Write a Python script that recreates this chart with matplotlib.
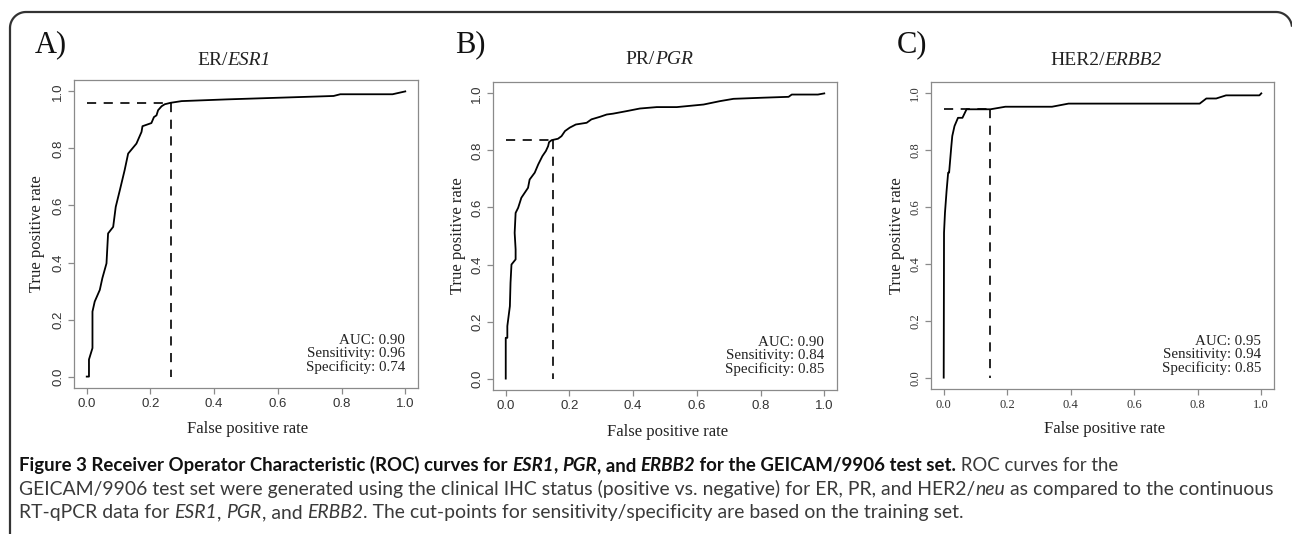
import matplotlib
matplotlib.use("Agg")
import numpy as np
import matplotlib.pyplot as plt
from matplotlib.lines import Line2D

W, H = 1292, 534
fig = plt.figure(figsize=(W / 100, H / 100), dpi=100)
fig.patch.set_facecolor("white")

# ---------------- data ----------------
er_fpr = [0.0, 0.007, 0.007, 0.018, 0.018, 0.025, 0.041, 0.049, 0.062, 0.067, 0.083, 0.091,
          0.104, 0.119, 0.130, 0.156, 0.172, 0.175, 0.203, 0.211, 0.219, 0.224, 0.235, 0.245,
          0.263, 0.298, 0.439, 0.775, 0.796, 0.96, 1.0]
er_tpr = [0.0, 0.0, 0.06, 0.10, 0.228, 0.263, 0.304, 0.345, 0.397, 0.502, 0.525, 0.595,
          0.654, 0.724, 0.782, 0.817, 0.858, 0.878, 0.889, 0.910, 0.916, 0.934, 0.948, 0.955,
          0.960, 0.966, 0.972, 0.984, 0.990, 0.990, 1.0]

pr_fpr = [0.0, 0.0, 0.005, 0.005, 0.013, 0.015, 0.018, 0.031, 0.031, 0.028, 0.031, 0.039,
          0.049, 0.070, 0.075, 0.091, 0.102, 0.115, 0.126, 0.133, 0.136, 0.144, 0.164, 0.175,
          0.186, 0.201, 0.220, 0.254, 0.269, 0.296, 0.317, 0.337, 0.380, 0.421, 0.474, 0.537,
          0.621, 0.673, 0.715, 0.809, 0.888, 0.898, 0.98, 1.0]
pr_tpr = [0.0, 0.143, 0.143, 0.184, 0.254, 0.336, 0.400, 0.418, 0.453, 0.511, 0.581, 0.599,
          0.634, 0.669, 0.698, 0.722, 0.751, 0.780, 0.798, 0.815, 0.829, 0.836, 0.841, 0.850,
          0.868, 0.880, 0.891, 0.897, 0.909, 0.918, 0.926, 0.929, 0.938, 0.947, 0.952, 0.952,
          0.961, 0.973, 0.981, 0.985, 0.988, 0.996, 0.996, 1.0]

her_fpr = [0.0, 0.001, 0.004, 0.009, 0.014, 0.017, 0.024, 0.027, 0.034, 0.045, 0.059, 0.072,
           0.147, 0.194, 0.341, 0.393, 0.806, 0.827, 0.858, 0.889, 0.994, 1.0]
her_tpr = [0.0, 0.51, 0.58, 0.656, 0.721, 0.721, 0.814, 0.850, 0.885, 0.914, 0.914, 0.944,
           0.944, 0.953, 0.953, 0.964, 0.964, 0.982, 0.982, 0.993, 0.993, 1.0]

cut_fpr = [0.263, 0.147, 0.147]
cut_tpr = [0.960, 0.838, 0.944]

letters = ["A)", "B)", "C)"]
titles = [("ER/", "ESR1"), ("PR/", "PGR"), ("HER2/", "ERBB2")]
auc = ["0.90", "0.90", "0.95"]
sens = ["0.96", "0.84", "0.94"]
spec = ["0.74", "0.85", "0.85"]
tick_vals = [0.0, 0.2, 0.4, 0.6, 0.8, 1.0]
tick_labels = ["0.0", "0.2", "0.4", "0.6", "0.8", "1.0"]
xlabel = "False positive rate"
ylabel = "True positive rate"

curves = [(er_fpr, er_tpr), (pr_fpr, pr_tpr), (her_fpr, her_tpr)]

# ---------------- layout (pixels) ----------------
boxes = [(74, 418, 80, 388), (493, 837, 82, 390), (931, 1274, 82, 389)]
letter_pos = [(35, 45), (455, 45), (897, 45)]
title_pos = [(234, 61), (659, 59), (1106, 61)]
xlab_pos = [(248, 429), (668, 432), (1105, 429)]
ylab_pos = [(37, 234), (458, 236), (897, 236)]
tick_fam = ["Liberation Sans", "Liberation Sans", "Liberation Serif"]
tick_size = [9.5, 9.5, 9]

SERIF = "Liberation Serif"
renderer = fig.canvas.get_renderer()


def fx(x):
    return x / W


def fy(y):
    return 1 - y / H


def text_width(s, **kw):
    t = fig.text(0, 0, "|" + s + "|", **kw)
    t2 = fig.text(0, 0, "||", **kw)
    w = t.get_window_extent(renderer).width - t2.get_window_extent(renderer).width
    t.remove()
    t2.remove()
    return w


def runs_width(runs, **common):
    return sum(text_width(s, **common, **kw) for s, kw in runs)


def draw_runs(x, y, runs, ha="left", va="baseline", **common):
    widths = [text_width(s, **common, **kw) for s, kw in runs]
    total = sum(widths)
    cx = x - total / 2 if ha == "center" else x
    for (s, kw), w in zip(runs, widths):
        fig.text(fx(cx), fy(y), s, ha="left", va=va, **common, **kw)
        cx += w
    return total


for i in range(3):
    l, r, t, b = boxes[i]
    ax = fig.add_axes([fx(l), fy(b), (r - l) / W, (b - t) / H])
    fpr, tpr = curves[i]
    ax.plot(fpr, tpr, color="black", lw=1.3, solid_joinstyle="round")
    ax.plot([0, cut_fpr[i]], [cut_tpr[i], cut_tpr[i]], color="black", lw=1.2,
            dashes=(5.5, 4.5))
    ax.plot([cut_fpr[i], cut_fpr[i]], [cut_tpr[i], 0], color="black", lw=1.2,
            dashes=(5.5, 4.5))
    ax.set_xlim(-0.04, 1.04)
    ax.set_ylim(-0.04, 1.04)
    ax.set_xticks(tick_vals)
    ax.set_xticklabels(tick_labels)
    ax.set_yticks(tick_vals)
    ax.set_yticklabels(tick_labels)
    for sp in ax.spines.values():
        sp.set_color("#8a8a8a")
        sp.set_linewidth(0.9)
    ax.tick_params(direction="out", length=4, width=0.9, color="#8a8a8a",
                   labelsize=tick_size[i], labelcolor="#333333", pad=3)
    for lab in ax.get_xticklabels():
        lab.set_family(tick_fam[i])
    for lab in ax.get_yticklabels():
        lab.set_family(tick_fam[i])
        lab.set_rotation(90)
        lab.set_va("center")
    for k, s in enumerate([f"AUC: {auc[i]}", f"Sensitivity: {sens[i]}",
                           f"Specificity: {spec[i]}"]):
        ax.text(1.0, 0.127 - 0.047 * k, s, ha="right", va="center",
                family=SERIF, fontsize=10.8, color="#222222")

    fig.text(fx(letter_pos[i][0]), fy(letter_pos[i][1]), letters[i], ha="left",
             va="center", family=SERIF, fontsize=22, color="#111111")
    draw_runs(title_pos[i][0], title_pos[i][1],
              [(titles[i][0], {}), (titles[i][1], {"style": "italic"})],
              ha="center", va="center", family=SERIF, fontsize=14, color="#222222")
    fig.text(fx(xlab_pos[i][0]), fy(xlab_pos[i][1]), xlabel, ha="center",
             va="center", family=SERIF, fontsize=12, color="#222222")
    fig.text(fx(ylab_pos[i][0]), fy(ylab_pos[i][1]), ylabel, ha="center",
             va="center", rotation=90, family=SERIF, fontsize=12, color="#222222")

# ---------------- frame: left side + rounded top corners, open at the bottom ----------------
rad = 16
left_x, top_y, right_x = 10, 12, 1292
th = np.linspace(np.pi, np.pi / 2, 20)
arc_l_x = left_x + rad + rad * np.cos(th)
arc_l_y = top_y + rad - rad * np.sin(th)
th2 = np.linspace(np.pi / 2, 0.15, 20)
arc_r_x = right_x - rad + rad * np.cos(th2)
arc_r_y = top_y + rad - rad * np.sin(th2)
px = np.concatenate([[left_x], arc_l_x, arc_r_x])
py = np.concatenate([[H + 5], arc_l_y, arc_r_y])
fig.add_artist(Line2D(fx(px), fy(py), transform=fig.transFigure, color="#333333",
                      lw=1.6, solid_joinstyle="round", clip_on=False))

# ---------------- caption ----------------
CAP = "Lato"
B = {"weight": "bold", "color": "#111111"}
BI = {"weight": "bold", "style": "italic", "color": "#111111"}
R = {"color": "#3a3a3a"}
RI = {"style": "italic", "color": "#3a3a3a"}

line1 = [("Figure 3 Receiver Operator Characteristic (ROC) curves for ", B), ("ESR1", BI),
         (", ", B), ("PGR", BI), (", and ", B), ("ERBB2", BI),
         (" for the GEICAM/9906 test set.", B), (" ROC curves for the", R)]
line2 = [("GEICAM/9906 test set were generated using the clinical IHC status (positive vs. "
          "negative) for ER, PR, and HER2/", R), ("neu", RI),
         (" as compared to the continuous", R)]
line3 = [("RT-qPCR data for ", R), ("ESR1", RI), (", ", R), ("PGR", RI), (", and ", R),
         ("ERBB2", RI), (". The cut-points for sensitivity/specificity are based on the "
                          "training set.", R)]

base = 10.0
cap_size = base * (1272 - 19) / runs_width(line2, family=CAP, fontsize=base)
cap_size1 = base * (1117 - 19) / runs_width(line1, family=CAP, fontsize=base)

draw_runs(19, 471, line1, family=CAP, fontsize=cap_size1)
draw_runs(19, 495, line2, family=CAP, fontsize=cap_size)
draw_runs(19, 518, line3, family=CAP, fontsize=cap_size)

fig.savefig("out.png", dpi=100, facecolor="white")
